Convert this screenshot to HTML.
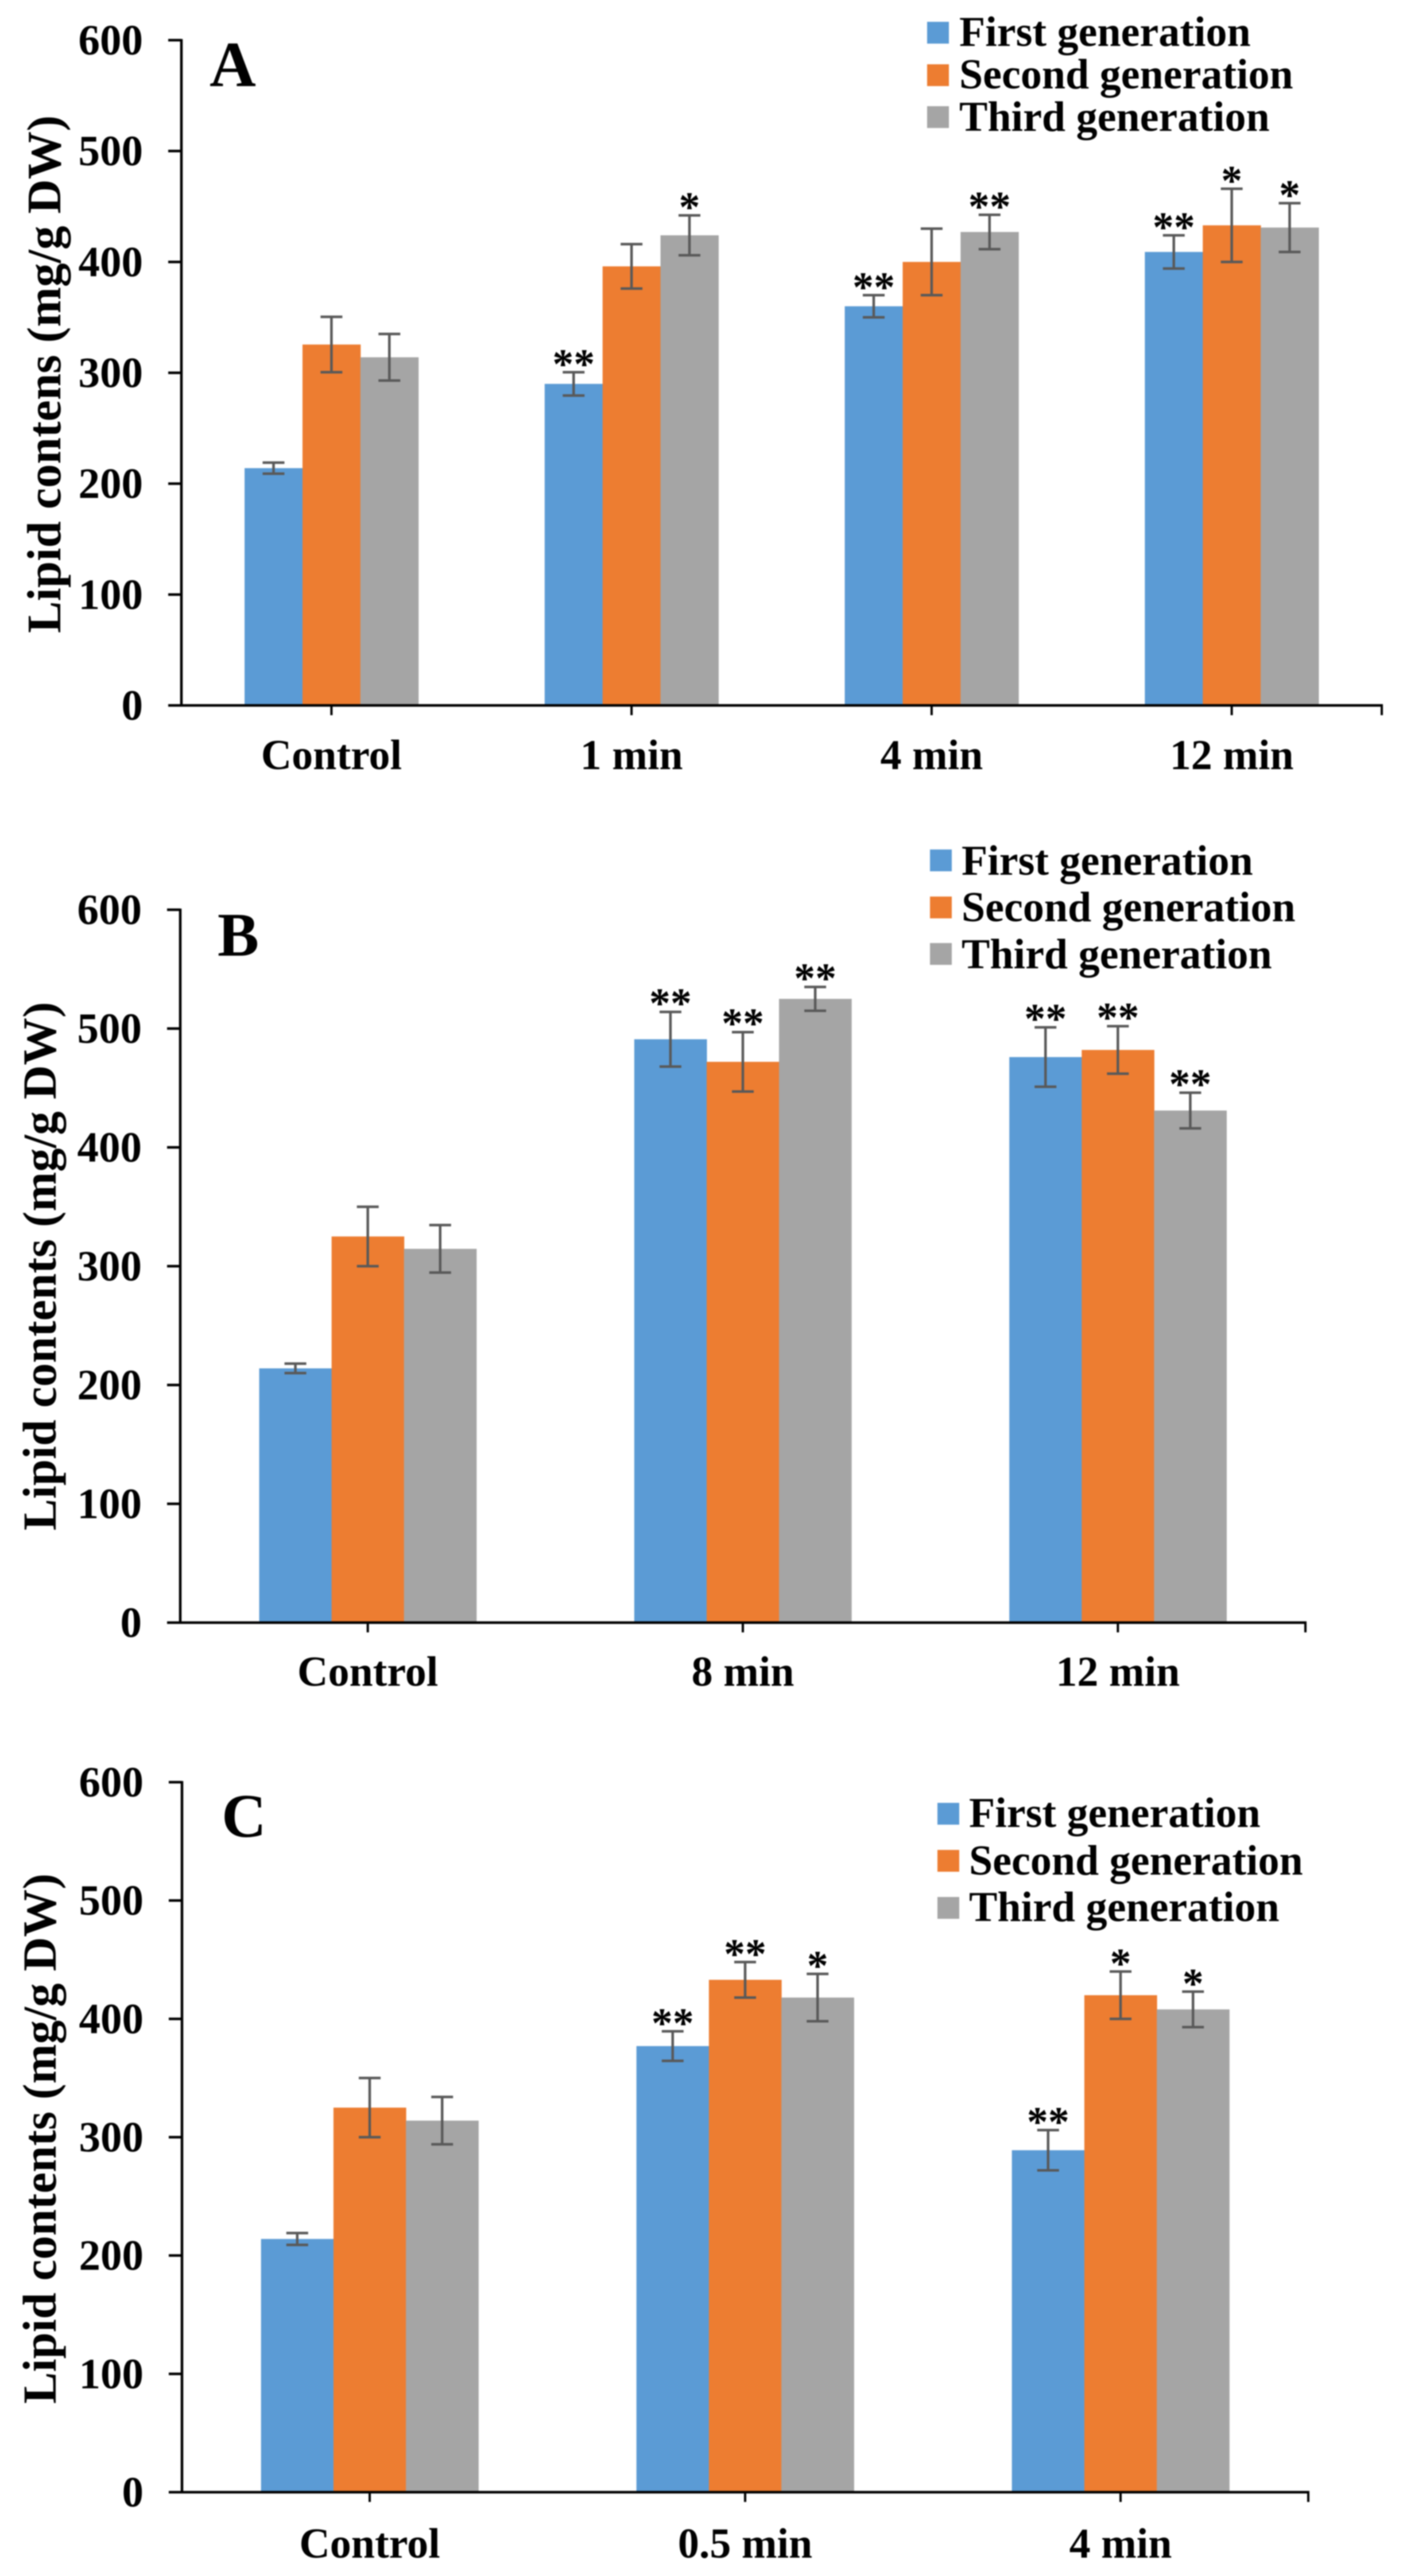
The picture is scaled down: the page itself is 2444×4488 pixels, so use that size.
<!DOCTYPE html>
<html lang="en">
<head>
<meta charset="utf-8">
<title>Lipid contents by generation</title>
<style>
html,body{margin:0;padding:0;background:#fff;width:2444px;height:4488px;overflow:hidden}
svg{display:block;filter:blur(1px)}
text{font-family:"Liberation Serif",serif;font-weight:bold;fill:#000}
</style>
</head>
<body>
<svg id="figure" xmlns="http://www.w3.org/2000/svg" width="2444" height="4488" viewBox="0 0 2444 4488"></svg>
<script>
const yTickValues = [0, 100, 200, 300, 400, 500, 600];
const seriesNames = ["First generation", "Second generation", "Third generation"];

const categoriesA = ["Control", "1 min", "4 min", "12 min"];
const firstA = [214, 290, 360, 409];
const secondA = [325.5, 396, 400, 433];
const thirdA = [314, 424, 427, 431];
const firstErrA = [5, 10.5, 10, 15];
const secondErrA = [25, 20, 30, 33];
const thirdErrA = [21, 18, 15.5, 22];
const firstStarsA = ["", "**", "**", "**"];
const secondStarsA = ["", "", "", "*"];
const thirdStarsA = ["", "*", "**", "*"];

const categoriesB = ["Control", "8 min", "12 min"];
const firstB = [214, 491, 476];
const secondB = [325, 472, 482];
const thirdB = [314.6, 525, 431];
const firstErrB = [4, 23, 25];
const secondErrB = [25, 25, 20];
const thirdErrB = [20, 10, 15];
const firstStarsB = ["", "**", "**"];
const secondStarsB = ["", "**", "**"];
const thirdStarsB = ["", "**", "**"];

const categoriesC = ["Control", "0.5 min", "4 min"];
const firstC = [214, 377, 289];
const secondC = [325, 433, 420];
const thirdC = [314, 418, 408];
const firstErrC = [5, 12.5, 17];
const secondErrC = [25, 15, 20];
const thirdErrC = [20, 20, 15];
const firstStarsC = ["", "**", "**"];
const secondStarsC = ["", "**", "*"];
const thirdStarsC = ["", "*", "*"];

const colors = ["#5B9BD5", "#ED7D31", "#A5A5A5"];
const NS = "http://www.w3.org/2000/svg";
const root = document.getElementById("figure");

function mk(tag, attrs, parent, txt) {
  const e = document.createElementNS(NS, tag);
  for (const k in attrs) e.setAttribute(k, attrs[k]);
  if (txt !== undefined) e.textContent = txt;
  parent.appendChild(e);
  return e;
}

function drawPanel(p) {
  const g = mk("g", {}, root);
  
  

  const yScale = v => p.y0 - v * (p.y0 - p.yTop) / 600;
  const band = (p.xR - p.xL) / p.categories.length;
  const xCenter = i => p.xL + (i + 0.5) * band;
  const barW = band * 0.193;

  // bars first, so axes overlay them
  p.values.forEach((vals, s) => {
    vals.forEach((v, i) => {
      const bar = mk("rect", {
        x: xCenter(i) + (s - 1.5) * barW,
        y: yScale(v),
        width: barW + 0.5,
        height: p.y0 - yScale(v),
        fill: colors[s]
      }, g);
      
      
    });
  });

  // error bars and significance stars
  p.values.forEach((vals, s) => {
    vals.forEach((v, i) => {
      const cx = xCenter(i) + (s - 1) * barW;
      const hi = yScale(v + p.errors[s][i]);
      const lo = yScale(v - p.errors[s][i]);
      const err = mk("path", {
        d: "M" + (cx - 19) + " " + hi + "H" + (cx + 19) + "M" + cx + " " + hi + "V" + lo + "M" + (cx - 19) + " " + lo + "H" + (cx + 19),
        stroke: "#595959",
        "stroke-width": 4.5,
        fill: "none"
      }, g);
      
      
      const mark = p.stars[s][i];
      if (mark) {
        const star = mk("text", {
          x: cx,
          y: hi - p.starGap + 35.5,
          "text-anchor": "middle",
          "font-size": 74
        }, g, mark);
        
        
      }
    });
  });

  // axes
  const yAxis = mk("line", {x1: p.xL, x2: p.xL, y1: p.yTop - 2, y2: p.y0 + 2, stroke: "#000", "stroke-width": 4.5}, g);
  
  
  const xAxis = mk("line", {x1: p.xL, x2: p.xR + 2, y1: p.y0, y2: p.y0, stroke: "#000", "stroke-width": 4.5}, g);
  
  

  yTickValues.forEach(v => {
    const t = mk("line", {x1: p.xL - 23, x2: p.xL, y1: yScale(v), y2: yScale(v), stroke: "#000", "stroke-width": 4.5}, g);
    
    
    const l = mk("text", {x: p.xL - 67, y: yScale(v) + 25, "text-anchor": "end", "font-size": 75}, g, String(v));
    
    
  });

  p.categories.forEach((c, i) => {
    const t = mk("line", {x1: xCenter(i), x2: xCenter(i), y1: p.y0, y2: p.y0 + 17, stroke: "#000", "stroke-width": 4}, g);
    
    
    const l = mk("text", {x: xCenter(i), y: p.catBase, "text-anchor": "middle", "font-size": 74}, g, c);
    
    
  });
  const endTick = mk("line", {x1: p.xR, x2: p.xR, y1: p.y0, y2: p.y0 + 17, stroke: "#000", "stroke-width": 4}, g);
  
  

  // y axis title
  const title = mk("text", {
    transform: "translate(" + p.yTitleX + " " + p.yTitleC + ") rotate(-90)",
    "text-anchor": "middle",
    "font-size": p.yTitleSize,
    textLength: p.yTitleLen,
    lengthAdjust: "spacingAndGlyphs"
  }, g, p.yTitle);
  
  

  // panel letter
  const letter = mk("text", {x: p.letterX, y: p.letterY, "font-size": p.letterSize}, g, p.letter);
  
  

  // legend
  seriesNames.forEach((name, s) => {
    const sw = mk("rect", {x: p.legX, y: p.legY[s] - 19, width: 38, height: 38, fill: colors[s]}, g);
    
    
    const lt = mk("text", {x: p.legTextX, y: p.legBase[s], "font-size": 74}, g, name);
    
    
  });
}

drawPanel({
  letter: "A", categories: categoriesA,
  values: [firstA, secondA, thirdA],
  errors: [firstErrA, secondErrA, thirdErrA],
  stars: [firstStarsA, secondStarsA, thirdStarsA],
  xL: 316, xR: 2407, y0: 1229, yTop: 70, catBase: 1340, starGap: 25,
  yTitle: "Lipid contens (mg/g DW)", yTitleX: 105, yTitleC: 652, yTitleSize: 84, yTitleLen: 902,
  letterX: 365, letterY: 150, letterSize: 112,
  legX: 1615, legY: [57, 131, 204], legTextX: 1671, legBase: [80, 154, 228]
});
drawPanel({
  letter: "B", categories: categoriesB,
  values: [firstB, secondB, thirdB],
  errors: [firstErrB, secondErrB, thirdErrB],
  stars: [firstStarsB, secondStarsB, thirdStarsB],
  xL: 314, xR: 2274, y0: 2827, yTop: 1585, catBase: 2937, starGap: 26,
  yTitle: "Lipid contents (mg/g DW)", yTitleX: 97, yTitleC: 2206, yTitleSize: 83, yTitleLen: 921,
  letterX: 379, letterY: 1665, letterSize: 108,
  legX: 1620, legY: [1499, 1581, 1662], legTextX: 1675, legBase: [1524, 1605, 1687]
});
drawPanel({
  letter: "C", categories: categoriesC,
  values: [firstC, secondC, thirdC],
  errors: [firstErrC, secondErrC, thirdErrC],
  stars: [firstStarsC, secondStarsC, thirdStarsC],
  xL: 317, xR: 2279, y0: 4342, yTop: 3105, catBase: 4456, starGap: 25,
  yTitle: "Lipid contents (mg/g DW)", yTitleX: 97, yTitleC: 3726, yTitleSize: 83, yTitleLen: 924,
  letterX: 386, letterY: 3200, letterSize: 108,
  legX: 1633, legY: [3160, 3242, 3324], legTextX: 1688, legBase: [3183, 3266, 3347]
});
</script>
</body>
</html>
